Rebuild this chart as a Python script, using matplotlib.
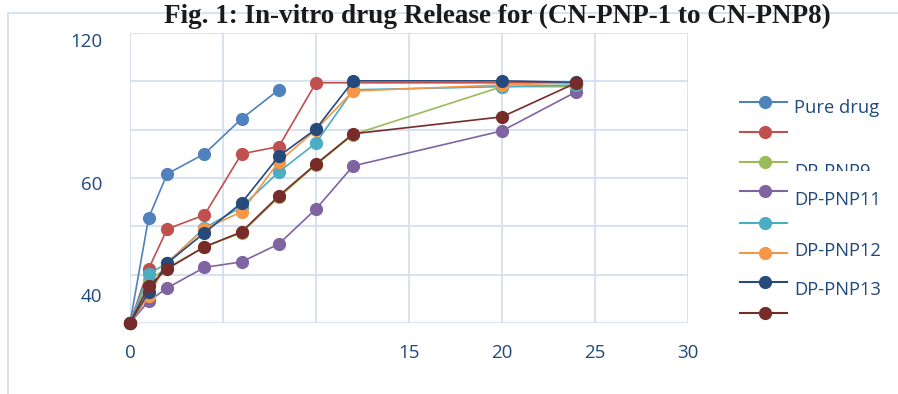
import numpy as np
import matplotlib
matplotlib.use('Agg')
import matplotlib.pyplot as plt
from matplotlib.lines import Line2D
from matplotlib.transforms import Bbox, TransformedBbox

# data (time in h, cumulative % release)
time_h = [0, 1, 2, 4, 6, 8, 10, 12, 20, 24]
pure_drug = [0, 43.5, 61.7, 70.0, 84.5, 96.5]
series_red = [0, 22.4, 38.9, 44.7, 70.0, 73.0, 99.4, 99.4, 99.4, 99.4]
dp_pnp9 = [0, 17.8, 22.8, 31.5, 37.3, 52.0, 65.4, 78.0, 97.8, 97.8]
dp_pnp11 = [0, 9.0, 14.5, 23.0, 25.3, 32.7, 47.2, 65.0, 79.5, 95.7]
series_cyan = [0, 20.3, 24.8, 39.3, 48.0, 62.5, 74.5, 96.5, 97.8, 98.5]
dp_pnp12 = [0, 11.0, 25.0, 39.0, 46.0, 66.7, 80.0, 96.0, 98.5, 99.4]
dp_pnp13 = [0, 12.8, 24.8, 37.3, 49.7, 69.0, 80.3, 100.2, 100.2, 99.6]
series_dkred = [0, 15.3, 22.4, 31.5, 37.7, 52.6, 65.8, 78.3, 85.3, 99.4]

all_series = [pure_drug, series_red, dp_pnp9, dp_pnp11, series_cyan, dp_pnp12, dp_pnp13, series_dkred]
legend_labels = ['Pure drug', '', 'DP-PNP9', 'DP-PNP11', '', 'DP-PNP12', 'DP-PNP13', '']
colors = ['#4F81BD', '#C0504D', '#9BBB59', '#8064A2', '#4BACC6', '#F79646', '#264A7C', '#772C2A']

x_ticks = [0, 5, 10, 15, 20, 25, 30]
x_labels = ['0', '', '', '15', '20', '25', '30']
y_label_pos = [11.6, 58, 117.2]
y_labels = ['40', '60', '120']

W, H = 898, 394
fig = plt.figure(figsize=(W / 100, H / 100), dpi=100)
ax = fig.add_axes([130 / W, 1 - 323 / H, (688 - 130) / W, (323 - 33) / H])

for vals, c in zip(all_series, colors):
    ax.plot(time_h[:len(vals)], vals, color=c, lw=1.2, marker='o', ms=8.5,
            markeredgecolor=c, clip_on=False)

grid_c = '#D3DFF2'
ax.set_xlim(0, 30)
ax.set_ylim(0, 120)
ax.set_xticks(x_ticks, labels=x_labels)
ax.set_yticks(np.arange(0, 121, 20), labels=[''] * 7)
ax.set_yticks(y_label_pos, labels=y_labels, minor=True)
ax.grid(True, which='major', color=grid_c, lw=1.3)
ax.set_axisbelow(True)
for s in ax.spines.values():
    s.set_visible(False)
txt_c = '#1F497D'
ax.tick_params(axis='both', which='both', length=0, labelcolor=txt_c, labelsize=13.5)
ax.tick_params(axis='x', pad=15)
ax.tick_params(axis='y', which='minor', pad=20)
for t in ax.get_xticklabels() + ax.get_yticklabels(minor=True):
    t.set_fontfamily('Open Sans')

# outer chart frame
fig.add_artist(Line2D([8 / W, 8 / W], [0, 1 - 13 / H], color=grid_c, lw=1.3))
fig.add_artist(Line2D([8 / W, 1], [1 - 13 / H, 1 - 13 / H], color=grid_c, lw=1.3))

fig.text(497 / W, 1 - 16 / H, 'Fig. 1: In-vitro drug Release for (CN-PNP-1 to CN-PNP8)',
         ha='center', va='center', fontsize=19.5, fontweight='bold',
         family='Liberation Serif', color='#1a1a1a')

# manual legend
row_y = [102, 132, 162, 191, 223, 253, 282, 313]
text_y = [108, 132, 172, 200, 223, 251, 290, 313]
for ry, ty, lab, c in zip(row_y, text_y, legend_labels, colors):
    fy = 1 - ry / H
    fig.add_artist(Line2D([740 / W, 787 / W], [fy, fy], color=c, lw=1.5))
    fig.add_artist(Line2D([765 / W], [fy], color=c, marker='o', ms=8.5, markeredgecolor=c))
    if lab:
        t = fig.text(794 / W, 1 - ty / H, lab, ha='left', va='center', fontsize=13.2,
                     family='Open Sans', color=txt_c)
        if lab == 'DP-PNP9':
            t.set_clip_box(TransformedBbox(Bbox.from_extents(0, 1 - 171 / H, 1, 1), fig.transFigure))
            t.set_clip_on(True)

fig.savefig('out.png', dpi=100)
